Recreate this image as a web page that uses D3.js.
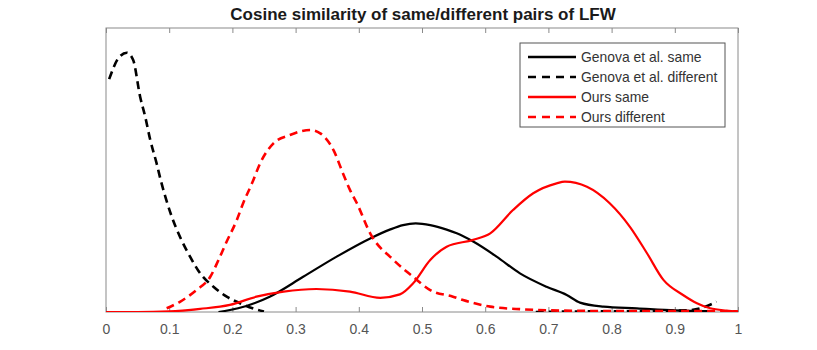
<!DOCTYPE html>
<html>
<head>
<meta charset="utf-8">
<script src="https://cdn.jsdelivr.net/npm/d3@7"></script>
<style>
  body { margin: 0; background: white; }
  text { font-family: "Liberation Sans", Arial, sans-serif; }
</style>
</head>
<body>
<div id="chart"></div>
<script>
const WIDTH = 817, HEIGHT = 350
const LEFT = 106, RIGHT = 79, TOP = 28, BOTTOM = 38

const title = "Cosine similarity of same/different pairs of LFW"
const xTicks = [0, 0.1, 0.2, 0.3, 0.4, 0.5, 0.6, 0.7, 0.8, 0.9, 1]
const seriesNames = ["Genova et al. same", "Genova et al. different", "Ours same", "Ours different"]

// density curves, x = similarity, y = arbitrary density
const genovaSameX = [0.178, 0.209, 0.259, 0.312, 0.365, 0.418, 0.449, 0.470, 0.49, 0.513, 0.539, 0.555, 0.581, 0.618, 0.655, 0.697, 0.729, 0.75, 0.787, 0.84, 0.9, 0.96]
const genovaSameY = [0.0, 0.13, 0.54, 1.24, 1.95, 2.59, 2.90, 3.06, 3.12, 3.06, 2.90, 2.77, 2.48, 1.95, 1.36, 0.89, 0.60, 0.33, 0.19, 0.13, 0.06, 0.03]

const genovaDiffX = [0.005, 0.02, 0.033, 0.043, 0.054, 0.062, 0.070, 0.080, 0.0865, 0.104, 0.117, 0.133, 0.149, 0.170, 0.191, 0.212, 0.232, 0.25, null, 0.68, 0.75, 0.85, 0.92, 0.945, 0.966]
const genovaDiffY = [8.2, 8.95, 9.13, 8.87, 7.58, 6.88, 6.06, 5.24, 4.65, 3.36, 2.65, 1.95, 1.36, 0.89, 0.54, 0.31, 0.13, 0.02, null, 0.0, 0.02, 0.03, 0.06, 0.16, 0.36]

const oursSameX = [0, 0.05, 0.1, 0.149, 0.196, 0.238, 0.281, 0.333, 0.386, 0.434, 0.465, 0.486, 0.513, 0.539, 0.581, 0.608, 0.644, 0.676, 0.713, 0.726, 0.761, 0.797, 0.829, 0.856, 0.882, 0.913, 0.935, 0.956, 0.982, 1]
const oursSameY = [0.0, 0.0, 0.02, 0.11, 0.25, 0.54, 0.72, 0.81, 0.72, 0.50, 0.62, 1.01, 1.83, 2.30, 2.54, 2.77, 3.59, 4.18, 4.53, 4.59, 4.41, 3.83, 3.0, 2.07, 1.13, 0.60, 0.31, 0.13, 0.05, 0.02]

const oursDiffX = [0.096, 0.117, 0.143, 0.165, 0.178, 0.191, 0.207, 0.217, 0.231, 0.244, 0.265, 0.291, 0.323, 0.339, 0.360, 0.375, 0.386, 0.397, 0.418, 0.455, 0.486, 0.513, 0.549, 0.565, 0.608, 0.655, 0.75, 0.85, 0.95, 1]
const oursDiffY = [0.13, 0.36, 0.77, 1.24, 1.83, 2.48, 3.24, 3.83, 4.53, 5.24, 5.94, 6.23, 6.41, 6.29, 5.70, 4.88, 4.30, 3.83, 2.77, 1.83, 1.24, 0.77, 0.54, 0.42, 0.19, 0.10, 0.04, 0.03, 0.03, 0.02]

const colors = ["black", "black", "red", "red"]
const dashed = [false, true, false, true]
const seriesX = [genovaSameX, genovaDiffX, oursSameX, oursDiffX]
const seriesY = [genovaSameY, genovaDiffY, oursSameY, oursDiffY]

const svg = d3.select("#chart").append("svg").attr("width", WIDTH).attr("height", HEIGHT)
const g = svg.append("g").attr("transform", "translate(" + LEFT + "," + TOP + ")")

const innerW = WIDTH - LEFT - RIGHT, innerH = HEIGHT - TOP - BOTTOM
const x_scale = d3.scaleLinear().domain([0, 1]).range([0, innerW])
const y_scale = d3.scaleLinear().domain([0, 10]).range([innerH, 0])

// title
svg.append("text").attr("x", LEFT + innerW / 2 + 1).attr("y", 20).attr("text-anchor", "middle")
  .attr("font-size", "17px").attr("font-weight", "bold").attr("fill", "#1a1a1a").text(title)

// axes: ticks inward on bottom and top, no y ticks
const axisColor = "#8a8a8a"
const gen_x = d3.axisBottom(x_scale).tickValues(xTicks).tickSize(-5).tickPadding(12).tickFormat(d3.format("~g"))
const xg = g.append("g").attr("transform", "translate(0," + innerH + ")").call(gen_x)
xg.select(".domain").remove()
xg.selectAll("line").attr("stroke", axisColor)
xg.selectAll("text").attr("font-size", "14px").attr("fill", "#555").attr("font-family", "Liberation Sans, Arial, sans-serif")

const gen_top = d3.axisTop(x_scale).tickValues(xTicks).tickSize(-5).tickFormat("")
const tg = g.append("g").call(gen_top)
tg.select(".domain").remove()
tg.selectAll("line").attr("stroke", axisColor)

g.append("rect").attr("x", 0).attr("y", 0).attr("width", innerW).attr("height", innerH)
  .attr("fill", "none").attr("stroke", axisColor).attr("stroke-width", 1)

// curves
const clip = svg.append("clipPath").attr("id", "plotclip")
clip.append("rect").attr("x", 0).attr("y", 0).attr("width", innerW).attr("height", innerH)

const line = d3.line()
  .defined(d => d[0] != null)
  .x(d => x_scale(d[0])).y(d => y_scale(d[1]))
  .curve(d3.curveMonotoneX)

const plot = g.append("g").attr("clip-path", "url(#plotclip)")
seriesNames.forEach((name, i) => {
  const pts = seriesX[i].map((v, k) => [v, seriesY[i][k]])
  plot.append("path").datum(pts).attr("d", line)
    .attr("fill", "none").attr("stroke", colors[i])
    .attr("stroke-width", dashed[i] ? 2.6 : 2.2)
    .attr("stroke-dasharray", dashed[i] ? "8,5" : null)
})

// legend
const legend = svg.append("g").attr("transform", "translate(520,43)")
legend.append("rect").attr("width", 205).attr("height", 84).attr("fill", "white")
  .attr("stroke", "#555").attr("stroke-width", 1)
seriesNames.forEach((name, i) => {
  const row = legend.append("g").attr("transform", "translate(0," + (14 + i * 20) + ")")
  row.append("line").attr("x1", 8).attr("x2", 56).attr("y1", 0).attr("y2", 0)
    .attr("stroke", colors[i]).attr("stroke-width", dashed[i] ? 2.6 : 2.4)
    .attr("stroke-dasharray", dashed[i] ? "8,6" : null)
  row.append("text").attr("x", 61).attr("y", 5).attr("font-size", "13.9px").attr("fill", "#333").text(name)
})
</script>
</body>
</html>
